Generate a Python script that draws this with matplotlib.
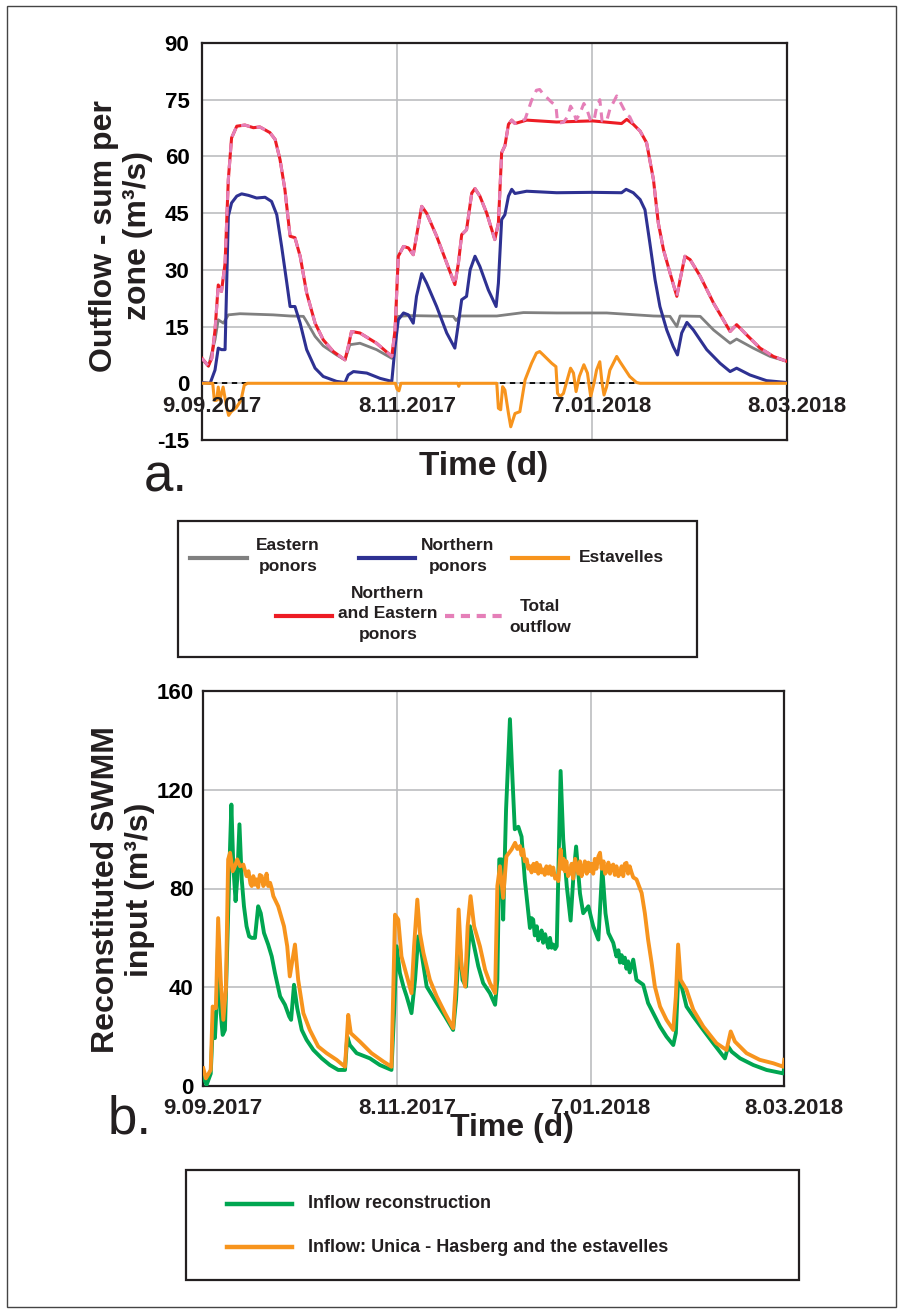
import matplotlib
matplotlib.use("Agg")
import matplotlib.pyplot as plt
import matplotlib.transforms as mtransforms
from matplotlib.lines import Line2D
from matplotlib.patches import Rectangle

plt.rcParams['font.family'] = ['Liberation Sans', 'DejaVu Sans']
plt.rcParams['font.weight'] = 'bold'
plt.rcParams['axes.unicode_minus'] = False

W, H = 904, 1315

# ---------------- data (day 0 = 9.09.2017) ----------------
tick_days = [0, 60, 120, 180]
tick_labels = ['9.09.2017', '8.11.2017', '7.01.2018', '8.03.2018']

east_days = [0, 2, 4, 5, 6.6, 8.1, 11.7, 21.9, 27.1, 31.2, 32.2, 34.8, 37.3, 41.4, 44, 45.5, 48.6, 53.7,
             58.4, 59.4, 60.4, 64, 77.3, 78.2, 79.4, 90.7, 98.9, 109.1, 119.4, 124.5, 138.9, 144, 146.1,
             147.1, 153.3, 157.4, 162.5, 164.5, 169.6, 174.8, 180]
east_vals = [6.4, 4.5, 11.5, 16.8, 15.9, 18.1, 18.4, 18.1, 17.8, 17.7, 16.3, 12.4, 9.9, 7.5, 6.2, 10.2, 10.6,
             8.9, 6.6, 11.5, 17.7, 17.9, 17.7, 16.6, 17.8, 17.8, 18.7, 18.6, 18.6, 18.6, 17.8, 17.7, 15,
             17.8, 17.7, 14.1, 10.6, 11.7, 9.3, 7.1, 5.8]

north_days = [0, 2.5, 4, 5, 6, 7.1, 8.1, 9.1, 10.7, 12.2, 14.3, 16.8, 19.4, 21.4, 23, 24.5, 26.1, 27.1,
              28.6, 30.2, 32.2, 34.8, 37.3, 41.4, 44, 45, 46.6, 50.7, 54.8, 58.4, 59.4, 60.4, 62, 63.5,
              65, 66, 67.6, 69.1, 72.2, 75.3, 77.8, 78.9, 79.9, 81.4, 82.5, 84, 85.5, 88.1, 90.5, 91.2,
              92.2, 93.2, 94.3, 95.3, 96.3, 99.9, 109.1, 120.1, 129.1, 130.5, 132.7, 134.8, 136.3, 137.8,
              139.4, 140.9, 143, 145, 146.3, 147.6, 149.2, 151.2, 155.3, 159.4, 162.5, 164.5, 168.6,
              173.7, 180]
north_vals = [0.2, 0, 3.5, 9.3, 8.9, 8.9, 44.2, 47.7, 49.5, 50.1, 49.7, 49, 49.2, 48.1, 44.6, 36.2, 26.5,
              20.3, 20.3, 15.9, 8.9, 4, 1.8, 0.5, 0.2, 2.2, 3.1, 2.7, 1.3, 0.5, 9.7, 16.8, 18.6, 18.1,
              15.9, 23, 29, 26.5, 20.3, 13.3, 9.3, 15.9, 22.1, 23, 30, 33.6, 30.9, 24.7, 20.3, 26.5,
              43.3, 44.6, 49.5, 51.3, 50.2, 50.8, 50.4, 50.5, 50.4, 51.3, 50.4, 48.6, 45.9, 37.1,
              27.4, 20.3, 14.1, 9.7, 7.5, 13.3, 16.1, 14.1, 8.9, 5.3, 3.1, 4, 2.2, 0.7, 0.2]

est_days = [0, 3.3, 3.8, 4.5, 5, 5.5, 6.5, 7.5, 8.2, 9, 10.5, 12, 13, 14, 59.5, 60, 60.6, 61.2, 78.7, 79,
            79.3, 90.7, 91.2, 91.9, 92.5, 93.2, 94.3, 95, 96.3, 97.8, 99.4, 101.4, 102.9, 103.9, 105,
            107.6, 108.9, 109.4, 110.2, 111.2, 112.5, 113.4, 114.3, 115.1, 116.1, 117.5, 118.6, 119.6,
            120.6, 121.4, 122.4, 123.1, 123.7, 124.5, 125.5, 127.6, 128.6, 131.6, 133.7, 134.8, 180]
est_vals = [0, 0, -4.5, -4.5, -1, -4.5, -1, -6, -8.5, -7.5, -6.5, -4.5, -0.5, 0, 0, -1.5, -2, 0, 0, -0.8,
            0, 0, -6.6, -7, -0.9, -1.8, -8, -11.5, -8, -7.5, 0.9, 5.3, 8, 8.4, 7.5, 5.3, 4.4, -2.7, -3.5,
            -2.7, 1.3, 4, 2.7, -2.2, 1.8, 4.9, 2.7, -3.5, 0, 3.5, 5.7, 0, -3.1, -0.9, 3.5, 7.1, 5.7, 1.8,
            0.2, 0, 0]

ne_days = [0, 1.95, 3, 4, 5, 6, 7.1, 8.1, 9.1, 10.7, 13.2, 15.8, 17.8, 20.9, 22.5, 24, 25.5, 27.1, 28.6,
           30.2, 32.2, 34.8, 37.3, 40.4, 44, 45, 46, 48.6, 53.7, 58.4, 59.4, 60.4, 62, 63.5, 65, 66, 67.6,
           69.1, 72.2, 75.3, 77.8, 78.9, 79.9, 81.4, 83, 84, 85.5, 87.6, 90.1, 91.2, 92.2, 93.2, 94.3,
           95.3, 96.3, 99.9, 109.1, 120.1, 129.1, 130.7, 132.7, 134.8, 136.8, 138.9, 140.4, 142, 144,
           146.1, 147.1, 148.6, 150.2, 153.3, 157.4, 160.4, 162.5, 164.5, 167.6, 171.7, 175.8, 180]
ne_vals = [6.6, 4.6, 6.6, 14, 26, 24.3, 31.8, 53.9, 64.9, 68, 68.3, 67.6, 67.8, 66.3, 64.5, 59.2, 51.3,
           38.9, 38.5, 33.6, 23.9, 15.9, 11.5, 8.4, 6.2, 9.7, 13.7, 13.3, 10.6, 7.1, 14.1, 33.6, 36.2,
           35.8, 34, 38.9, 46.8, 45, 38.9, 31.8, 26.1, 31.8, 39.3, 40.6, 50.3, 51.5, 49.5, 45, 38, 42.4,
           61, 62.8, 68.5, 69.6, 68.7, 69.6, 69.1, 69.4, 68.7, 69.8, 68.5, 66.7, 63.6, 53.9, 42.4, 35.3,
           29.2, 23, 27.4, 33.6, 32.7, 28.3, 21.2, 16.8, 13.7, 15.5, 12.8, 9.3, 7.1, 5.8]

total_days = [0, 1.95, 3, 4, 5, 6, 7.1, 8.1, 9.1, 10.7, 13.2, 15.8, 17.8, 20.9, 22.5, 24, 25.5, 27.1,
              28.6, 30.2, 32.2, 34.8, 37.3, 40.4, 44, 45, 46, 48.6, 53.7, 58.4, 59.4, 60.4, 62, 63.5,
              65, 66, 67.6, 69.1, 72.2, 75.3, 77.8, 78.9, 79.9, 81.4, 83, 84, 85.5, 87.6, 90.1, 91.2,
              92.2, 93.2, 94.3, 95.3, 96.3, 99.4, 101.4, 102.9, 103.9, 105, 107.6, 108.9, 109.4, 110.2,
              111.2, 112.5, 113.4, 114.3, 115.1, 116.1, 117.5, 118.6, 119.6, 120.6, 121.4, 122.4,
              123.1, 124.5, 125.5, 127.6, 128.6, 130.7, 131.6, 132.7, 134.8, 136.8, 138.9, 140.4, 142,
              144, 146.1, 147.1, 148.6, 150.2, 153.3, 157.4, 160.4, 162.5, 164.5, 167.6, 171.7, 175.8,
              180]
total_vals = [6.6, 4.6, 6.6, 14, 26, 24.3, 31.8, 53.9, 64.9, 68, 68.3, 67.6, 67.8, 66.3, 64.5, 59.2,
              51.3, 38.9, 38.5, 33.6, 23.9, 15.9, 11.5, 8.4, 6.2, 9.7, 13.7, 13.3, 10.6, 7.1, 14.1,
              33.6, 36.2, 35.8, 34, 38.9, 46.8, 45, 38.9, 31.8, 26.1, 31.8, 39.3, 40.6, 50.3, 51.5,
              49.5, 45, 38, 42.4, 61, 62.8, 68.5, 69.6, 68.7, 69.8, 74.8, 77.5, 77.7, 76.5, 74.3, 73.4,
              69, 68.9, 69, 70.5, 73.3, 72, 69.7, 71, 74, 72, 69.4, 69.4, 73, 75, 69.4, 69.3, 72.5, 76,
              74.5, 71, 70.5, 68.5, 66.7, 63.6, 53.9, 42.4, 35.3, 29.2, 23, 27.4, 33.6, 32.7, 28.3,
              21.2, 16.8, 13.7, 15.5, 12.8, 9.3, 7.1, 5.8]

green_days = [0, 1, 2.3, 3.1, 3.6, 4.1, 4.6, 5.4, 6, 6.7, 7.4, 8.1, 8.7, 9.3, 10, 10.5, 11.2, 11.9, 12.6,
              13.4, 14.2, 15, 16, 17, 17.8, 18.8, 20.1, 21.2, 22.2, 23.8, 25.3, 26.6, 27.2, 28.1, 29.1,
              30.5, 32, 34.1, 36.7, 39.2, 41.8, 43.9, 44.6, 45.4, 47.5, 51.6, 54.7, 58.3, 59.1, 59.9,
              60.9, 62, 63, 64.5, 65.6, 66.6, 67.6, 69.2, 72.3, 74.9, 77.4, 78.3, 79.3, 80.3, 81.4,
              82.6, 83.9, 85.2, 86.7, 88.8, 90.4, 91.1, 91.7, 92.4, 92.9, 93.8, 95, 95.8, 96.5, 97.6,
              98.6, 99.6, 100.7, 101.2, 101.7, 102.2, 102.7, 103.3, 103.8, 104.3, 104.8, 105.3, 105.9,
              106.4, 106.9, 107.4, 107.9, 108.4, 109, 109.5, 110.7, 111.5, 112.6, 113.8,
              114.6, 115.5, 116.7, 117.7, 119.3, 120.8, 122.4, 123.6, 124.6, 125.5, 127, 128, 128.6,
              129.1, 129.6, 130.1, 130.6, 131.1, 131.6, 132.1, 133.2, 134.2, 136.3, 137.8, 139.4, 141.5,
              143.5, 145.6, 146.4, 147.1, 148.2,
              149.7, 151.8, 154.9, 158, 161.6, 162.6, 163.7, 166.3, 170.4, 174.5, 179.7, 180]
green_vals = [3.8, 0.4, 5, 29.5, 19.4, 32, 60, 29.5, 20.7, 22.7, 56.6, 89, 114, 89, 74.9, 83.7, 106,
              83.7, 72.8, 64.7, 60.6, 60, 60, 72.8, 70, 62, 57.3, 52.5, 45.8, 36.3, 32.9, 28.2, 26.8,
              41, 31.5, 22.7, 18.7, 14.6, 11.2, 8.5, 6.5, 6.5, 20, 16.6, 13.3, 11.2, 8.5, 6.5, 29.5,
              56.6, 45.8, 40.3, 36.3, 29.5, 43, 60.6, 53.9, 40.3, 33.6, 28.2, 22.7, 34.9, 60, 43,
              40.3, 64.7, 56.6, 48.5, 41.7, 37.6, 32.9, 43, 91.8, 91.8, 67.4, 112, 148.6, 124, 104,
              105, 101, 83.7, 70, 64, 68, 67.4, 61, 64.7, 59, 60.6, 63, 58, 61.5,
              58.6, 56, 60, 56, 57.3, 55.5, 56.6, 127.6, 100, 81, 67,
              83.7, 97, 78, 70, 72.8, 64.7, 59.3, 88.4, 70, 62, 58, 52.5, 55,
              50, 53, 49.8, 52, 47.5, 50.5, 46, 51.2, 43, 41, 33.6, 29.5, 24.1,
              20, 16.6, 21.4, 43, 40.3,
              32.2, 28.2, 22.7, 17.3, 11.2, 16, 13.9, 11.2, 8.5, 6.5, 5.1, 7.8]

orange_days = [0, 0.8, 2.3, 2.9, 3.9, 4.6, 5.4, 6.2, 7, 7.7, 8.3, 9.1, 9.8, 10.5, 11.4, 12.4, 13.4, 14,
               14.6, 15, 15.5, 16, 16.5, 17, 17.5, 18.1, 18.6, 19.1, 19.6, 20.1, 20.7, 21.2, 21.7, 23.2,
               25, 26, 26.8, 28.4, 29.4, 31, 33, 35.6, 38.2, 41.3,
               43.9, 44.9, 45.7, 48.5, 52.1, 55.8, 58.3, 59.4, 60.4, 61.4, 62.8, 64.5, 65.3, 66.3, 67.1,
               68.2, 70.2, 72.3, 74.9, 77.4, 78.3, 79.1, 80, 81.1, 81.9, 82.8, 83.9, 85.7, 87.3, 88.8,
               90.4, 91.1, 91.9, 92.9, 93.9, 95.5, 96.6, 97.3, 98.1, 98.6, 99.1, 99.6, 100.2, 100.7,
               101.2, 101.7, 102.3, 102.8, 103.3, 103.8, 104.3, 104.8, 105.3, 105.8, 106.3, 106.9,
               107.4, 107.9, 108.4, 109, 109.5, 110, 110.7, 111.2, 111.6, 112, 112.5, 113, 113.6,
               114.1, 114.6, 115.2, 115.7, 116.2, 116.7, 117.2, 117.7, 118.2, 118.8, 119.3, 119.8,
               120.3, 120.8, 121.3, 121.8, 122.4, 122.9, 123.4, 124, 124.5, 125, 125.5, 126, 126.5,
               127, 127.5, 128, 128.6, 129.1, 129.6, 130.1, 130.6, 131.1, 131.6, 132.1, 132.7, 133.2,
               134.2, 135.8, 136.8, 137.8, 138.9, 139.9, 141.5, 143.5, 145.6, 146.4, 147.1, 147.9,
               149.7, 151.8, 154.9, 159, 162.1, 163.4, 164.7, 168.3, 172.4, 176.6, 179.7, 180]
orange_vals = [7.2, 3.1, 6.5, 32.2, 31.5, 68, 43, 26.8, 39, 91.8, 94.5, 87, 89, 91.8, 89, 89.7, 85, 87,
               82, 81, 85, 81.5, 83.7, 80.5, 85.5, 85, 81, 82.3, 86, 81, 82.3, 80, 76.9, 72.8,
               64.7, 56.6, 44.4, 57.3, 43, 29.5, 22.7, 16, 13.3, 10.6,
               7.8, 28.8, 21.4, 18, 13.3, 9.9, 7.8, 69.4, 67.4, 52.5, 45.8, 37.6, 56.6, 75.5, 62,
               53.9, 43, 36.3, 29.5, 23.4, 43, 71.5, 48.5, 40.3, 64.7, 76.9, 64.7, 56.6, 47.1, 41.7,
               37.6, 81, 89, 76.2, 93, 95.8, 98.5, 96, 97.2, 93.5, 95.8, 91, 91.8, 88,
               89, 86.5, 90, 87, 90.4, 86, 89.5, 86.5, 87.7, 85.5, 89, 86,
               89, 85.5, 88.5, 84, 85, 83, 95.8, 88, 92, 87, 91, 85, 86.4,
               90, 84, 92, 89, 86, 91, 85, 87.7, 91, 86, 90.5, 87,
               90, 86, 92, 88, 93, 94.5, 88, 91, 86, 87, 90.5, 86, 89,
               89.7, 85.5, 89, 85, 86.4, 89, 85, 90, 90.4, 86, 89, 86.4, 84.5,
               83.7, 78.2, 70, 59.3, 49.8, 40.3, 32.2, 26.8, 22.7, 36.3, 57.3, 43,
               39, 30.9, 24.1, 17.3, 14.6, 22.1, 18, 13.3, 10.6, 9.2, 7.8, 10.6]

top_yticks = [-15, 0, 15, 30, 45, 60, 75, 90]
bot_yticks = [0, 40, 80, 120, 160]

# ---------------- styling ----------------
C_EAST = '#808080'
C_NORTH = '#2e3192'
C_EST = '#f7941d'
C_NE = '#ed1c24'
C_TOT = '#e57fb8'
C_GREEN = '#00a651'
C_ORANGE = '#f7941d'
C_GRID = '#bcbdc0'
C_DARK = '#231f20'


def fx(px):
    return px / W


def fy(py):
    return 1 - py / H


fig = plt.figure(figsize=(W / 100, H / 100), dpi=100)

# outer frame
fig.patches.append(Rectangle((fx(7), fy(1307)), fx(896) - fx(7), fy(6) - fy(1307),
                             transform=fig.transFigure, fill=False, lw=1.0, ec='#444444'))

# ---------------- top axes ----------------
ax1 = fig.add_axes([fx(202), fy(440), (787 - 202) / W, (440 - 43) / H])
ax1.set_xlim(0, 180)
ax1.set_ylim(-15, 90)
ax1.set_yticks(top_yticks)
ax1.set_xticks([60, 120])
ax1.set_xticklabels([])
ax1.grid(True, color=C_GRID, lw=1.2, zorder=0)
ax1.set_axisbelow(True)
ax1.tick_params(axis='both', length=0, labelsize=16, pad=9)
for lab in ax1.get_yticklabels():
    lab.set_fontweight('bold')
for s in ax1.spines.values():
    s.set_color(C_DARK)
    s.set_linewidth(1.6)

ax1.axhline(0, color='black', lw=1.3, ls=(0, (3, 2.5)), zorder=1)
ax1.plot(east_days, east_vals, color=C_EAST, lw=2.0, zorder=2)
ax1.plot(north_days, north_vals, color=C_NORTH, lw=2.2, zorder=3)
ax1.plot(est_days, est_vals, color=C_EST, lw=2.2, zorder=4)
ax1.plot(ne_days, ne_vals, color=C_NE, lw=2.2, zorder=5)
ax1.plot(total_days, total_vals, color=C_TOT, lw=2.2, ls=(0, (3, 2.2)), zorder=6)

off1 = mtransforms.offset_copy(ax1.transData, fig=fig, x=10, y=0, units='dots')
for d, lab in zip(tick_days, tick_labels):
    ax1.text(d, -6.2, lab, transform=off1, ha='center', va='center', fontsize=16,
             fontweight='bold', color=C_DARK, clip_on=False, zorder=7)

fig.text(fx(121), fy(236), 'Outflow - sum per\nzone (m³/s)', rotation=90, ha='center', va='center',
         fontsize=23, fontweight='bold', color=C_DARK, linespacing=1.2, multialignment='center')
fig.text(fx(484), fy(466), 'Time (d)', ha='center', va='center', fontsize=24, fontweight='bold',
         color=C_DARK)
fig.text(fx(166), fy(477), 'a.', ha='center', va='center', fontsize=38, fontweight='normal',
         color=C_DARK)

# ---------------- top legend ----------------
fig.patches.append(Rectangle((fx(178), fy(657)), fx(697) - fx(178), fy(521) - fy(657),
                             transform=fig.transFigure, fill=False, lw=1.6, ec=C_DARK))


def leg_line(x0, x1, y, color, ls='-', lw=3.0):
    fig.lines.append(Line2D([fx(x0), fx(x1)], [fy(y), fy(y)], transform=fig.transFigure,
                            color=color, lw=lw, ls=ls))


LEG_FS = 12.5
LS = 1.42
leg_line(190, 247, 558, C_EAST)
fig.text(fx(288), fy(556), 'Eastern\nponors', ha='center', va='center', fontsize=LEG_FS,
         color=C_DARK, linespacing=LS)
leg_line(359, 415, 558, C_NORTH)
fig.text(fx(458), fy(556), 'Northern\nponors', ha='center', va='center', fontsize=LEG_FS,
         color=C_DARK, linespacing=LS)
leg_line(512, 568, 558, C_EST)
fig.text(fx(579), fy(557), 'Estavelles', ha='left', va='center', fontsize=LEG_FS, color=C_DARK)
leg_line(276, 332, 616, C_NE)
fig.text(fx(388), fy(614), 'Northern\nand Eastern\nponors', ha='center', va='center', fontsize=LEG_FS,
         color=C_DARK, linespacing=LS)
leg_line(445, 502, 616, C_TOT, ls=(0, (2.2, 1.6)))
fig.text(fx(540), fy(617), 'Total\noutflow', ha='center', va='center', fontsize=LEG_FS,
         color=C_DARK, linespacing=LS)

# ---------------- bottom axes ----------------
ax2 = fig.add_axes([fx(203.3), fy(1086), (784.3 - 203.3) / W, (1086 - 691) / H])
ax2.set_xlim(0, 180)
ax2.set_ylim(0, 160)
ax2.set_yticks(bot_yticks)
ax2.set_xticks([60, 120])
ax2.set_xticklabels([])
ax2.grid(True, color=C_GRID, lw=1.2, zorder=0)
ax2.set_axisbelow(True)
ax2.tick_params(axis='both', length=0, labelsize=16, pad=7)
for lab in ax2.get_yticklabels():
    lab.set_fontweight('bold')
for s in ax2.spines.values():
    s.set_color(C_DARK)
    s.set_linewidth(1.6)

ax2.plot(green_days, green_vals, color=C_GREEN, lw=2.8, zorder=3)
ax2.plot(orange_days, orange_vals, color=C_ORANGE, lw=2.8, zorder=4)

off2 = mtransforms.offset_copy(ax2.get_xaxis_transform(), fig=fig, x=10, y=-22, units='dots')
for d, lab in zip(tick_days, tick_labels):
    ax2.text(d, 0, lab, transform=off2, ha='center', va='center', fontsize=16,
             fontweight='bold', color=C_DARK, clip_on=False)

fig.text(fx(123), fy(890), 'Reconstituted SWMM\ninput (m³/s)', rotation=90, ha='center', va='center',
         fontsize=23, fontweight='bold', color=C_DARK, linespacing=1.2, multialignment='center')
fig.text(fx(512), fy(1128), 'Time (d)', ha='center', va='center', fontsize=23, fontweight='bold',
         color=C_DARK)
fig.text(fx(130), fy(1120), 'b.', ha='center', va='center', fontsize=38, fontweight='normal',
         color=C_DARK)

# ---------------- bottom legend ----------------
fig.patches.append(Rectangle((fx(186), fy(1280)), fx(799) - fx(186), fy(1170) - fy(1280),
                             transform=fig.transFigure, fill=False, lw=1.6, ec=C_DARK))
leg_line(227, 292, 1204, C_GREEN, lw=3.2)
fig.text(fx(308), fy(1204), 'Inflow reconstruction', ha='left', va='center', fontsize=13, color=C_DARK)
leg_line(227, 292, 1247, C_ORANGE, lw=3.2)
fig.text(fx(308), fy(1247), 'Inflow: Unica - Hasberg and the estavelles', ha='left', va='center',
         fontsize=13, color=C_DARK)

fig.savefig('out.png', dpi=100)
